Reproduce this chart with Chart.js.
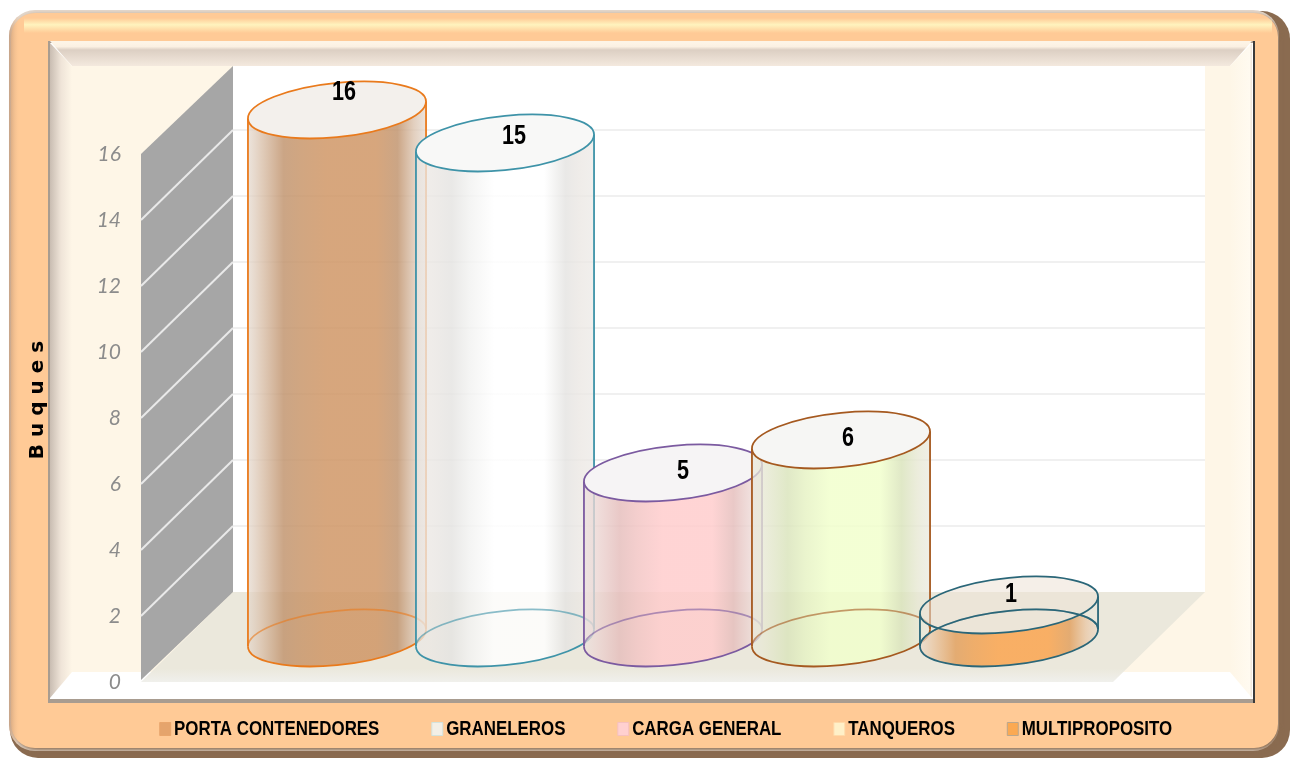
<!DOCTYPE html>
<html><head><meta charset="utf-8">
<style>html,body{margin:0;padding:0;background:#fff;overflow:hidden}canvas{display:block}</style>
<script src="https://cdn.jsdelivr.net/npm/chart.js@4"></script>
</head><body>
<canvas id="c" width="1291" height="759"></canvas>
<script>
const categories = ['PORTA CONTENEDORES','GRANELEROS','CARGA GENERAL','TANQUEROS','MULTIPROPOSITO'];
const buques = [16,15,5,6,1];
const yTicks = [0,2,4,6,8,10,12,14,16];
const axisTitle = 'B u q u e s';

const bodyColors = ['#CF9564','#FFFFFF','#FFCCCC','#F1FFCC','#FBA44E'];
const outlineColors = ['#E97A1C','#3E93A8','#7B5AA0','#A5591F','#2A6678'];
const capColors = ['#F3F0EC','#F8F8F7','#F6F4F5','#F6F6F4','rgba(236,226,214,0.55)'];
const legendFill = ['#E5A46C','#F3EFE6','#FFD0D0','#FFF0C8','#FBA952'];
const legendEdge = ['#E8A46A','#CFE3E0','#F5BFC0','#FFD9A8','#B5A58F'];
const labelNudge = [[7,-17],[9,-6],[10,-1],[7,-1],[2,-10]];
const legendSqueeze = 0.845;

const hexRgb = h => [1,3,5].map(i => parseInt(h.slice(i,i+2),16));
const mix = (a,b,t) => a.map((v,i)=>Math.round(v*(1-t)+b[i]*t));
const rgba = (c,a) => `rgba(${c[0]},${c[1]},${c[2]},${a})`;

class CylinderElement extends Chart.BarElement {
  static id = 'cylinder';
  static defaults = {...Chart.BarElement.defaults, capColor:'#fff'};
  draw(ctx){
    const {x,y,base,width} = this.getProps(['x','y','base','width']);
    const o = this.options, rx = width/2, ry = rx*0.305, sh = rx*0.095;
    const oval = (cy,a0,a1,ccw) => {
      ctx.save(); ctx.transform(1,-sh/rx,0,1,x,cy);
      ctx.ellipse(0,0,rx,ry,0,a0,a1,ccw); ctx.restore();
    };
    const c = hexRgb(o.backgroundColor), gray=[150,146,140];
    const g = ctx.createLinearGradient(x-rx,0,x+rx,0);
    const m = mix(c,gray,0.25), e = mix(c,[232,228,224],0.85);
    g.addColorStop(0,rgba(e,0.7));
    g.addColorStop(0.07,rgba(mix(c,[225,220,214],0.65),0.8));
    g.addColorStop(0.2,rgba(m,0.84));
    g.addColorStop(0.3,rgba(mix(c,gray,0.12),0.84));
    g.addColorStop(0.44,rgba(c,0.84));
    g.addColorStop(0.72,rgba(c,0.84));
    g.addColorStop(0.84,rgba(m,0.84));
    g.addColorStop(0.93,rgba(mix(c,[225,220,214],0.65),0.8));
    g.addColorStop(1,rgba(e,0.7));
    ctx.save();
    const short = base-y < 2*ry;
    ctx.beginPath();
    if(short){
      ctx.rect(x-rx-4,y-ry-20,2*rx+8,base-y+2*ry+50);
      oval(y,0,Math.PI*2); ctx.closePath();
      ctx.save(); ctx.clip('evenodd');
      ctx.beginPath(); oval(base,0,Math.PI*2); ctx.closePath();
      ctx.fillStyle=g; ctx.fill(); ctx.restore();
    } else {
      ctx.moveTo(x-rx,y+sh); ctx.lineTo(x-rx,base+sh);
      oval(base,Math.PI,0,true);
      ctx.lineTo(x+rx,y-sh); ctx.closePath();
      ctx.fillStyle=g; ctx.fill();
    }
    ctx.strokeStyle=o.borderColor; ctx.lineWidth=1.8;
    ctx.globalAlpha=0.6;
    ctx.beginPath(); oval(base,Math.PI,0); ctx.stroke();
    ctx.globalAlpha=1;
    ctx.beginPath(); oval(base,Math.PI,0,true); ctx.stroke();
    ctx.beginPath();
    ctx.moveTo(x-rx,y+sh); ctx.lineTo(x-rx,base+sh);
    ctx.moveTo(x+rx,y-sh); ctx.lineTo(x+rx,base-sh); ctx.stroke();
    ctx.beginPath(); oval(y,0,Math.PI*2); ctx.closePath();
    ctx.fillStyle=o.capColor; ctx.fill(); ctx.stroke();
    if(short){ ctx.beginPath(); oval(base,Math.PI,0); ctx.stroke(); }
    ctx.restore();
  }
}
class CylinderController extends Chart.BarController {
  static id = 'cylinderBar';
  static defaults = {...Chart.BarController.defaults, dataElementType:'cylinder'};
  static overrides = Chart.BarController.overrides;
}
Chart.register(CylinderElement, CylinderController);

const poly = (ctx,pts,fill) => {
  ctx.beginPath(); pts.forEach((p,i)=> i?ctx.lineTo(p[0],p[1]):ctx.moveTo(p[0],p[1]));
  ctx.closePath(); ctx.fillStyle=fill; ctx.fill();
};
const frame = {
  id:'frame',
  beforeLayout(chart){
    const l = chart.legend;
    if(l._patched) return;
    l._patched = true;
    const fit = l.fit, draw = l.draw;
    l.fit = function(){ this.maxWidth = 2000; fit.call(this); this.width = 1291; this.height = 59; };
    l.draw = function(){
      const ctx = this.ctx, cx = 668.5;
      ctx.save(); ctx.translate(cx,0); ctx.scale(legendSqueeze,1); ctx.translate(-cx,0);
      draw.call(this);
      ctx.restore();
    };
  },
  afterLayout(chart){
    const l = chart.legend; l.left = -200; l.right = 1537; l.top = 651; l.bottom = 759;
  },
  beforeDraw(chart){
    const ctx = chart.ctx, sy = chart.scales.y, sb = chart.scales.yBars;
    ctx.save();
    ctx.beginPath(); ctx.roundRect(10,11,1280,747,28); ctx.fillStyle='#8A6B50'; ctx.fill();
    ctx.beginPath(); ctx.roundRect(9,10,1270,741,26); ctx.fillStyle='#E3D7CB'; ctx.fill();
    ctx.save();
    ctx.shadowColor='#8A6B50'; ctx.shadowBlur=4; ctx.shadowOffsetX=2; ctx.shadowOffsetY=2;
    ctx.beginPath(); ctx.roundRect(11,13,1267,735,24); ctx.fillStyle='#FFCA96'; ctx.fill();
    ctx.restore();
    ctx.save();
    ctx.beginPath(); ctx.roundRect(9,10,1270,741,26); ctx.clip();
    let g = ctx.createLinearGradient(9,0,20,0);
    g.addColorStop(0,'rgba(190,150,120,.8)'); g.addColorStop(1,'rgba(255,202,150,0)');
    ctx.fillStyle=g; ctx.fillRect(9,10,11,741);
    ctx.restore();
    g = ctx.createLinearGradient(0,18,0,33);
    g.addColorStop(0,'rgba(255,244,190,0)'); g.addColorStop(.45,'#FFF3BE'); g.addColorStop(1,'rgba(255,244,190,0)');
    ctx.fillStyle=g; ctx.fillRect(24,18,1248,15);
    ctx.fillStyle='#A89C90'; ctx.fillRect(48,41,1207,662);
    ctx.fillStyle='#FFFFFF'; ctx.fillRect(50,43,1203,656);
    ctx.fillStyle='#3A3A3A'; ctx.fillRect(1253,41,2,662);
    ctx.fillStyle='#FEF6E7'; ctx.fillRect(72,65,1158,607);
    g = ctx.createLinearGradient(0,43,0,66);
    g.addColorStop(0,'#FDF4E6'); g.addColorStop(.16,'#FBF0E2'); g.addColorStop(.3,'#DCCFC3'); g.addColorStop(1,'#F4E9DE');
    poly(ctx,[[50,41],[1252,41],[1230,66],[72,66]],g);
    g = ctx.createLinearGradient(50,0,72,0);
    g.addColorStop(0,'#C9BDB2'); g.addColorStop(.5,'#EFE4D8'); g.addColorStop(1,'#FEF6E7');
    poly(ctx,[[50,43],[72,66],[72,672],[50,698]],g);
    g = ctx.createLinearGradient(1230,0,1253,0);
    g.addColorStop(0,'#FEF6E7'); g.addColorStop(.85,'#FFFAF0'); g.addColorStop(1,'#E8DCCF');
    poly(ctx,[[1252,43],[1230,66],[1230,672],[1252,698]],g);
    ctx.fillStyle='#FFFFFF'; ctx.fillRect(233,66,972,526);
    const backY = v => sb.getPixelForValue(v)-46;
    const frontY = v => sy.getPixelForValue(v);
    g = ctx.createLinearGradient(0,592,0,682);
    g.addColorStop(0,'#EBE8DC'); g.addColorStop(.85,'#EBE8DC'); g.addColorStop(1,'#F0F0EC');
    poly(ctx,[[233,592],[1205,592],[1113,682],[141,682]],g);
    poly(ctx,[[141,frontY(16)],[233,66],[233,backY(0)],[141,frontY(0)-2]],'#A6A6A6');
    ctx.lineWidth=2;
    yTicks.forEach(v=>{
      if(v===0||v===16) return;
      ctx.strokeStyle='#E9E9E9';
      ctx.beginPath(); ctx.moveTo(141,frontY(v)); ctx.lineTo(233,backY(v)); ctx.stroke();
      ctx.strokeStyle='#F0F0F0';
      ctx.beginPath(); ctx.moveTo(233,backY(v)); ctx.lineTo(1205,backY(v)); ctx.stroke();
    });
    ctx.restore();
  },
  afterDatasetsDraw(chart){
    const ctx = chart.ctx, meta = chart.getDatasetMeta(0);
    ctx.save();
    ctx.font = 'bold 27px "Liberation Sans",sans-serif';
    ctx.textAlign='center'; ctx.textBaseline='middle'; ctx.fillStyle='#000';
    meta.data.forEach((el,i)=>{
      ctx.save();
      ctx.translate(el.x+labelNudge[i][0], el.y+labelNudge[i][1]);
      ctx.scale(0.8,1);
      ctx.fillText(String(buques[i]),0,0);
      ctx.restore();
    });
    ctx.restore();
  }
};

new Chart(document.getElementById('c'),{
  type:'cylinderBar',
  data:{labels:categories,datasets:[{
    label:'Buques',data:buques,yAxisID:'yBars',clip:false,
    backgroundColor:bodyColors,borderColor:outlineColors,capColor:capColors,
    barPercentage:1.06,categoryPercentage:1
  }]},
  options:{
    responsive:false,animation:false,
    layout:{padding:{top:100,left:0,right:0,bottom:0}},
    plugins:{
      tooltip:{enabled:false},
      legend:{position:'bottom',align:'center',
        labels:{
          usePointStyle:true,boxWidth:1,boxHeight:13,padding:68,color:'#000',
          font:{family:'"Liberation Sans",sans-serif',size:20,weight:'bold'},
          generateLabels:()=>categories.map((t,i)=>({
            text:t,fillStyle:legendFill[i],strokeStyle:legendEdge[i],lineWidth:1,
            pointStyle:'rect',hidden:false,index:i,datasetIndex:0,fontColor:'#000'
          }))
        }}
    },
    scales:{
      x:{type:'category',display:false},
      y:{
        position:'left',min:-0.545,max:17.636,
        afterBuildTicks(s){ s.ticks = yTicks.map(v=>({value:v})); },
        afterFit(s){ s.width = 253; s.paddingTop = 0; s.paddingBottom = 0; },
        grid:{display:false},border:{display:false},
        ticks:{padding:124,color:'#8C8C8C',autoSkip:false,font:{family:'Lato',size:21,style:'italic'}},
        title:{display:true,text:axisTitle,color:'#000',padding:{top:26,bottom:0},
          font:{family:'"DejaVu Sans"',size:20,weight:'bold'}}
      },
      yBars:{
        position:'right',min:-1.879,max:16.303,
        afterFit(s){ s.width = 198; s.paddingTop = 0; s.paddingBottom = 0; },
        grid:{display:false},border:{display:false},ticks:{display:false}
      }
    }
  },
  plugins:[frame]
});
</script>
</body></html>
